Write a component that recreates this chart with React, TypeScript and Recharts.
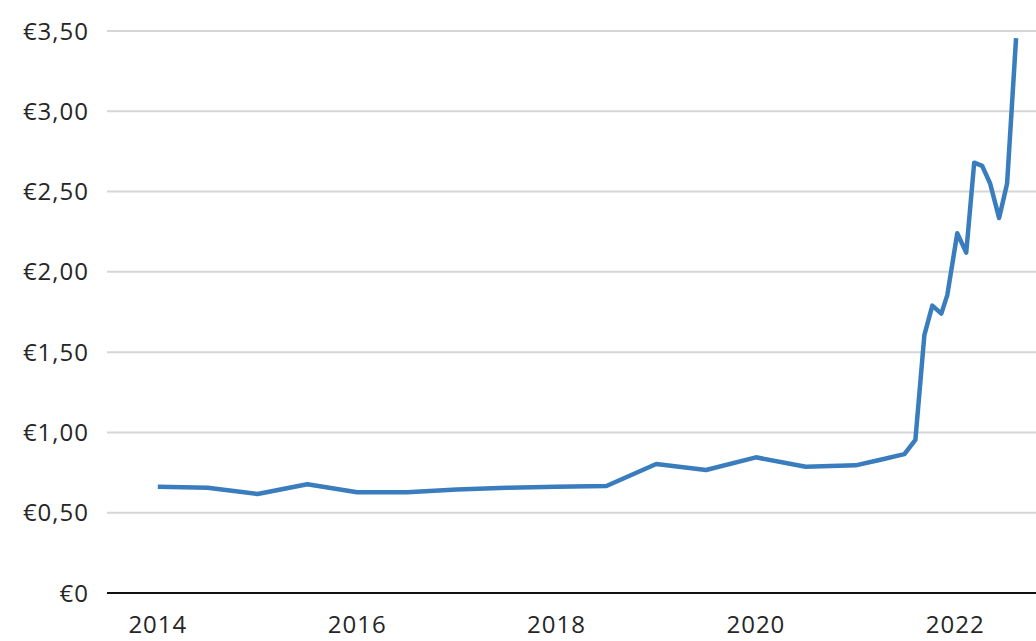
import { LineChart, Line, XAxis, YAxis, CartesianGrid } from "recharts";

// fractional years
const years = [
  2014.0, 2014.5, 2015.0, 2015.5, 2016.0, 2016.5, 2017.0, 2017.5, 2018.0, 2018.5,
  2019.0, 2019.5, 2020.0, 2020.5, 2021.0, 2021.25, 2021.49, 2021.6, 2021.69, 2021.77,
  2021.86, 2021.92, 2022.02, 2022.11, 2022.19, 2022.27, 2022.35, 2022.44, 2022.52, 2022.61,
];
const prices = [
  0.662, 0.656, 0.617, 0.677, 0.627, 0.627, 0.645, 0.655, 0.662, 0.666,
  0.803, 0.766, 0.845, 0.786, 0.795, 0.83, 0.865, 0.953, 1.606, 1.79,
  1.74, 1.855, 2.24, 2.12, 2.68, 2.66, 2.55, 2.335, 2.55, 3.455,
];
const yearTicks = [2014, 2016, 2018, 2020, 2022];
const priceTicks = [0, 0.5, 1, 1.5, 2, 2.5, 3, 3.5];

const data = years.map((year, i) => ({ year, price: prices[i] }));

const euro = (v: number) => (v === 0 ? "€0" : "€" + v.toFixed(2).replace(".", ","));

const tickStyle = {
  fill: "#262626",
  fontSize: 24,
  fontFamily: "'Open Sans', sans-serif",
  letterSpacing: 1,
};

export default function App() {
  return (
    <div style={{ width: 1036, height: 641, background: "#fff" }}>
      <style>{"body{margin:0}"}</style>
      <LineChart
        width={1036}
        height={641}
        data={data}
        margin={{ top: 31, right: 0, bottom: 0, left: 0 }}
      >
        <CartesianGrid stroke="#d6d6d6" strokeWidth={2} vertical={false} />
        <XAxis
          dataKey="year"
          type="number"
          domain={[2013.49, 2022.81]}
          ticks={yearTicks}
          allowDataOverflow
          tick={tickStyle}
          tickLine={false}
          tickSize={0}
          tickMargin={23}
          axisLine={{ stroke: "#111", strokeWidth: 2 }}
          height={48}
        />
        <YAxis
          domain={[0, 3.5]}
          ticks={priceTicks}
          tickFormatter={euro}
          tick={tickStyle}
          tickLine={false}
          tickSize={0}
          tickMargin={18}
          axisLine={false}
          width={107}
        />
        <Line
          type="linear"
          dataKey="price"
          stroke="#3a7dbe"
          strokeWidth={4.5}
          dot={false}
          strokeLinejoin="round"
          isAnimationActive={false}
        />
      </LineChart>
    </div>
  );
}
